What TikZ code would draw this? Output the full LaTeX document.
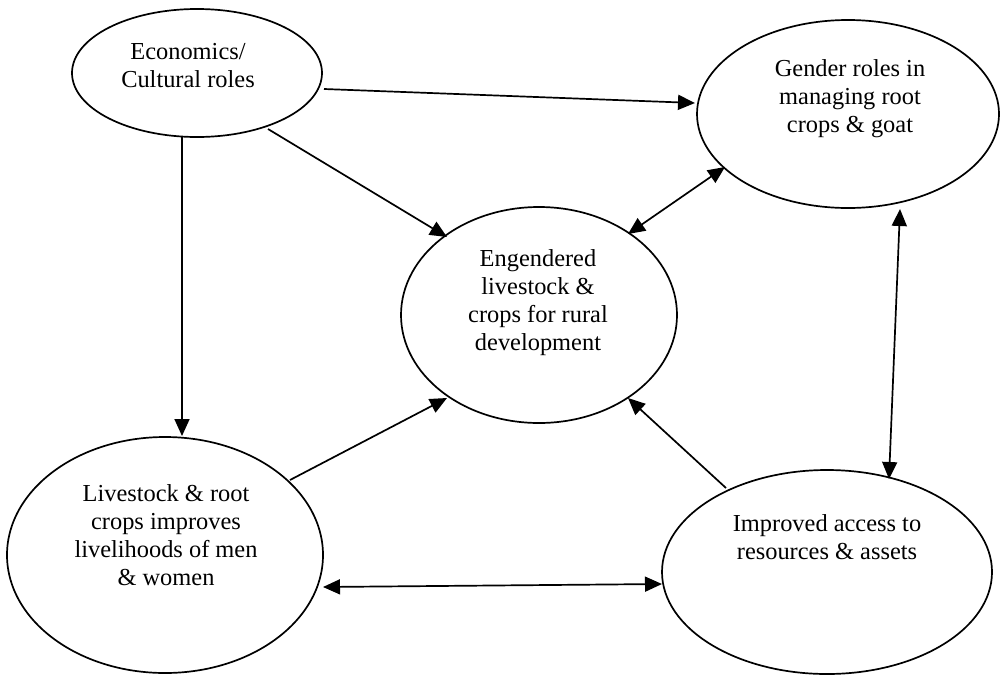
\documentclass[tikz,border=0pt]{standalone}
\usepackage{fontspec}
\setmainfont{Liberation Serif}
\usetikzlibrary{arrows.meta,shapes.geometric}
\begin{document}
\begin{tikzpicture}[x=0.5pt,y=-0.5pt,
 oval/.style={draw,ellipse,line width=0.85pt,inner sep=0pt},
 lbl/.style={align=center,font=\fontsize{12.2}{14}\selectfont,inner sep=0pt},
 conn/.style={line width=0.85pt,-{Triangle[length=8.5pt,width=7.5pt]}},
 biconn/.style={line width=0.85pt,{Triangle[length=8.5pt,width=7.5pt]}-{Triangle[length=8.5pt,width=7.5pt]}}]
\useasboundingbox (0,0) rectangle (1000,675);

% ellipses
\node[oval,minimum width=125pt,minimum height=64pt] (econ) at (197,73) {};
\node[oval,minimum width=151pt,minimum height=94pt] (gender) at (848,114) {};
\node[oval,minimum width=138pt,minimum height=108pt] (eng) at (539,315) {};
\node[oval,minimum width=158pt,minimum height=118pt] (live) at (165,555) {};
\node[oval,minimum width=165pt,minimum height=102pt] (imp) at (827,572) {};

% texts
\node[lbl] (econT) at (188,66) {Economics/\\Cultural roles};
\node[lbl] (genderT) at (850,99) {Gender roles in\\managing root\\crops \& goat};
\node[lbl] (engT) at (538,303) {Engendered\\livestock \&\\crops for rural\\development};
\node[lbl] (liveT) at (166,535) {Livestock \& root\\crops improves\\livelihoods of men\\\& women};
\node[lbl] (impT) at (827,537) {Improved access to\\resources \& assets};

% connector end points
\coordinate (c1a) at (324,89);  \coordinate (c1b) at (695,103);
\coordinate (c2a) at (268,129); \coordinate (c2b) at (447,237);
\coordinate (c3a) at (182,137); \coordinate (c3b) at (182,436);
\coordinate (c4a) at (628,234); \coordinate (c4b) at (725,167);
\coordinate (c5a) at (900,209); \coordinate (c5b) at (889,479);
\coordinate (c6a) at (290,480); \coordinate (c6b) at (447,398);
\coordinate (c7a) at (726,488); \coordinate (c7b) at (628,398);
\coordinate (c8a) at (323,587); \coordinate (c8b) at (662,584);

\draw[conn] (c1a) -- (c1b);
\draw[conn] (c2a) -- (c2b);
\draw[conn] (c3a) -- (c3b);
\draw[biconn] (c4a) -- (c4b);
\draw[biconn] (c5a) -- (c5b);
\draw[conn] (c6a) -- (c6b);
\draw[conn] (c7a) -- (c7b);
\draw[biconn] (c8a) -- (c8b);
\end{tikzpicture}
\end{document}
